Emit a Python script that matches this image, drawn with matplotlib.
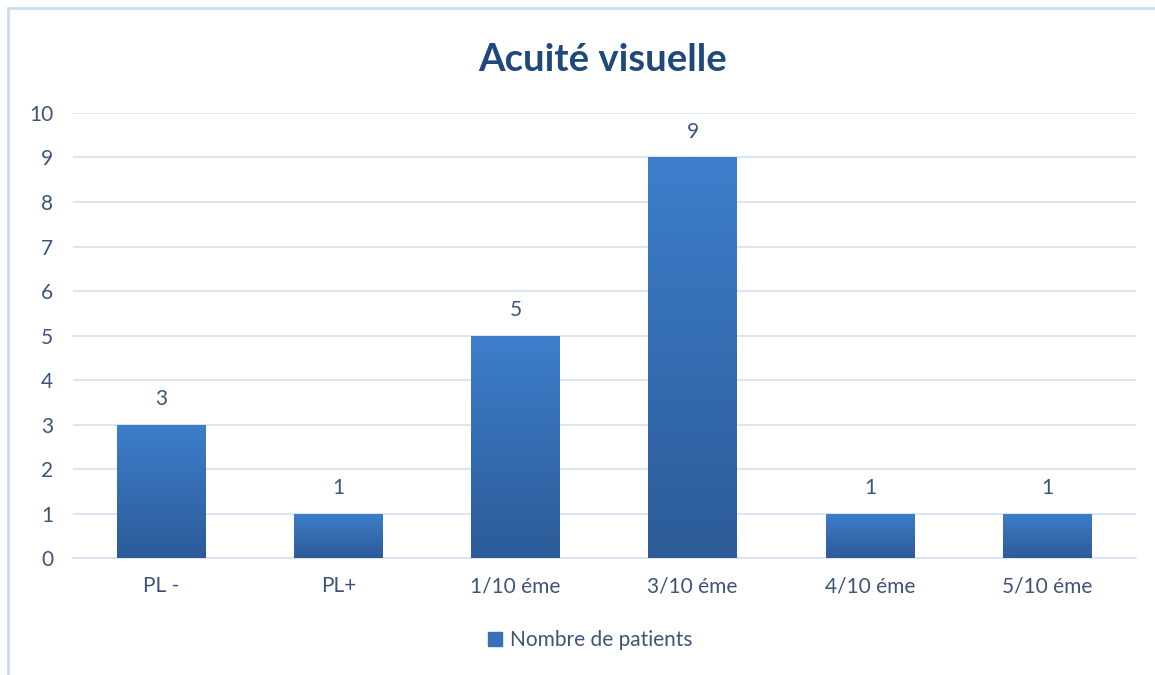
import numpy as np
import matplotlib.pyplot as plt
from matplotlib.colors import LinearSegmentedColormap
from matplotlib.patches import Rectangle

# donnees
categories = ['PL -', 'PL+', '1/10 éme', '3/10 éme', '4/10 éme', '5/10 éme']
patients = [3, 1, 5, 9, 1, 1]
serie = 'Nombre de patients'

plt.rcParams['font.family'] = ['Lato', 'DejaVu Sans']
txt = '#3e5478'

fig = plt.figure(figsize=(11.55, 6.75), dpi=100)
ax = fig.add_axes([0.0628, 0.1733, 0.9204, 0.6593])

x = np.arange(len(categories))
bars = ax.bar(x, patients, width=0.5, color='#3670b8', zorder=2, label=serie)

# degrade vertical sur chaque barre
cmap = LinearSegmentedColormap.from_list('g', ['#2c5b98', '#3d7ecb'])
grad = np.linspace(0, 1, 256).reshape(-1, 1)
for b in bars:
    x0, w, h = b.get_x(), b.get_width(), b.get_height()
    im = ax.imshow(grad, cmap=cmap, aspect='auto', origin='lower',
                   extent=[x0, x0 + w, 0, h], zorder=3)
    im.set_clip_path(b)
    ax.text(x0 + w / 2, h + 0.35, str(int(h)), ha='center', va='bottom',
            fontsize=15, color=txt)

ax.set_xlim(-0.5, len(categories) - 0.5)
ax.set_ylim(0, 10)
ax.set_yticks(range(0, 11))
ax.set_xticks(x)
ax.set_xticklabels(categories)
ax.grid(axis='y', color='#d6e2f1', linewidth=1.2, zorder=0)
ax.set_axisbelow(True)
for s in ['top', 'right', 'left']:
    ax.spines[s].set_visible(False)
ax.spines['bottom'].set_color('#d6e2f1')
ax.spines['bottom'].set_linewidth(1.2)
ax.tick_params(length=0, labelsize=15, colors=txt)
ax.tick_params(axis='x', pad=13)
ax.tick_params(axis='y', pad=14)

fig.suptitle('Acuité visuelle', x=0.522, y=0.937, fontsize=27.5,
             fontweight='bold', color='#1f497d')

leg = fig.legend(handles=[Rectangle((0, 0), 1, 1, color='#3670b8')],
                 labels=[serie], loc='center', bbox_to_anchor=(0.511, 0.052),
                 frameon=False, fontsize=15, handlelength=0.65, handleheight=0.65,
                 handletextpad=0.4)
for t in leg.get_texts():
    t.set_color(txt)

# cadre du graphique
fig.patches.append(Rectangle((8 / 1155, -0.01), 1.2, 1 - 8 / 675 + 0.01,
                             transform=fig.transFigure, fill=False,
                             edgecolor='#cddcee', linewidth=2))

fig.savefig('out.png', dpi=100)
